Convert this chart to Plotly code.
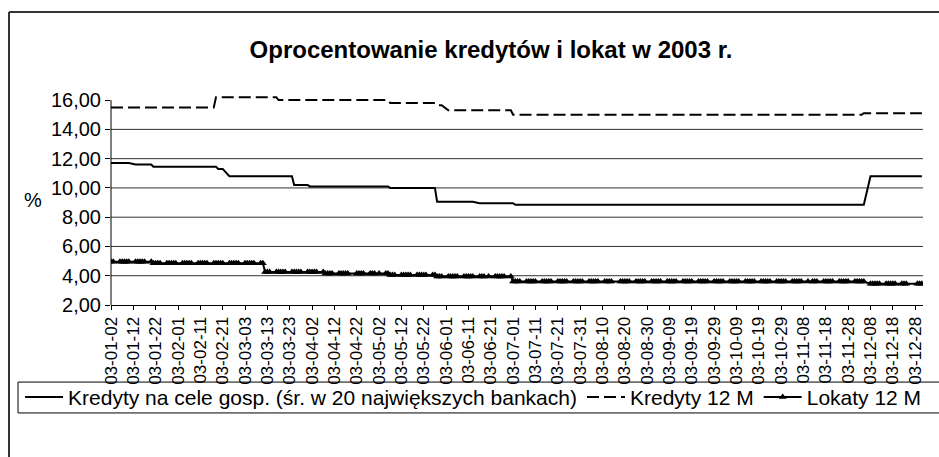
import numpy as np
import pandas as pd
import plotly.graph_objects as go

title = 'Oprocentowanie kredytów i lokat w 2003 r.'
names = ['Kredyty na cele gosp. (śr. w 20 największych bankach)', 'Kredyty 12 M', 'Lokaty 12 M']

# dates on which each rate changed (first day of the new value) and the rate from that day on
kred_dates = ['2003-01-02', '2003-01-13', '2003-01-21', '2003-02-19', '2003-02-24', '2003-03-25',
              '2003-04-01', '2003-05-07', '2003-05-28', '2003-06-16', '2003-07-02', '2003-12-08']
kred_vals = [11.70, 11.60, 11.45, 11.30, 10.80, 10.20, 10.10, 10.00, 9.05, 8.95, 8.85, 10.80]

k12_dates = ['2003-01-02', '2003-02-18', '2003-03-18', '2003-05-07', '2003-05-28', '2003-06-02',
             '2003-07-01', '2003-12-05']
k12_vals = [15.50, 16.20, 16.00, 15.80, 15.65, 15.30, 15.00, 15.10]

lok_dates = ['2003-01-02', '2003-01-21', '2003-03-12', '2003-04-08', '2003-05-07', '2003-05-28',
             '2003-07-01', '2003-12-08']
lok_vals = [4.95, 4.85, 4.25, 4.15, 4.05, 3.95, 3.60, 3.45]

holidays = ['2003-04-21', '2003-05-01', '2003-06-19', '2003-08-15', '2003-11-11', '2003-12-25', '2003-12-26']
y_ticks = [2, 4, 6, 8, 10, 12, 14, 16]

# business days of the year, each carrying the rate in force that day
days = pd.bdate_range('2003-01-02', '2003-12-31', freq='C', holidays=holidays)


def daily(dates, vals):
    idx = np.searchsorted(pd.to_datetime(dates), days, side='right') - 1
    return np.array(vals)[idx]


FONT = 'Liberation Sans, Arial, sans-serif'

fig = go.Figure()
fig.add_trace(go.Scatter(x=days, y=daily(kred_dates, kred_vals), mode='lines', name=names[0],
                         line=dict(color='black', width=2)))
fig.add_trace(go.Scatter(x=days, y=daily(k12_dates, k12_vals), mode='lines', name=names[1],
                         line=dict(color='black', width=2, dash='12px,5px')))
fig.add_trace(go.Scatter(x=days, y=daily(lok_dates, lok_vals), mode='lines+markers', name=names[2],
                         line=dict(color='black', width=2),
                         marker=dict(symbol='triangle-up', size=7, color='black')))


def pline(x0, y0, x1, y1, color='black', width=1):
    return dict(type='line', xref='paper', yref='paper', x0=x0, y0=y0, x1=x1, y1=y1,
                line=dict(color=color, width=width))


# plot-area decorations: left axis line only up to 16 and gridlines 4..14
shapes = [dict(type='line', xref='paper', x0=0, x1=0, yref='y', y0=2, y1=16,
               line=dict(color='black', width=1))]
for v in y_ticks[1:-1]:
    shapes.append(dict(type='line', xref='paper', x0=0, x1=1, yref='y', y0=v, y1=v,
                       line=dict(color='#333', width=1), layer='below'))
# outer frame (runs off the right and bottom edges) and legend box (runs off the right edge)
shapes += [pline(-0.1256, 1.395, 1.05, 1.395, '#333', 2),
           pline(-0.1256, -0.8, -0.1256, 1.395, '#333', 2),
           pline(-0.1145, -0.367, 1.05, -0.367),
           pline(-0.1145, -0.514, 1.05, -0.514),
           pline(-0.1145, -0.514, -0.1145, -0.367)]

fig.update_layout(
    width=939, height=457,
    margin=dict(l=111, r=16, t=95, b=152),
    paper_bgcolor='white', plot_bgcolor='white',
    font=dict(family=FONT, color='black'),
    separators=', ',
    title=dict(text=title, font=dict(size=24, weight='bold'), xref='paper', x=0.468, xanchor='center',
               yref='container', y=1 - 50 / 457, yanchor='middle'),
    showlegend=True,
    legend=dict(orientation='h', x=-0.112, xanchor='left', y=-0.44, yanchor='middle',
                font=dict(size=21), itemwidth=38, bgcolor='rgba(0,0,0,0)', borderwidth=0),
    shapes=shapes,
    annotations=[dict(text='%', xref='paper', yref='paper', x=-0.096, y=0.5, xanchor='center',
                      showarrow=False, font=dict(size=20))],
)
fig.update_xaxes(type='date', range=['2003-01-02', '2003-12-31 12:00'],
                 tickmode='linear', tick0='2003-01-02', dtick=10 * 86400000, tickformat='%y-%m-%d',
                 tickangle=-90, tickfont=dict(size=17), ticks='outside', ticklen=4, tickcolor='black',
                 showline=True, linecolor='black', linewidth=1, showgrid=False, zeroline=False)
fig.update_yaxes(range=[2, 16.35], tickvals=y_ticks, tickformat='.2f', tickfont=dict(size=20),
                 ticks='outside', ticklen=5, tickcolor='black', showline=False, showgrid=False,
                 zeroline=False)

# drop the default page margin so the 939x457 figure fills the window exactly
fig.write_html('out.html', config={'displayModeBar': False},
               post_script="document.body.style.margin='0';document.body.style.overflow='hidden';")
